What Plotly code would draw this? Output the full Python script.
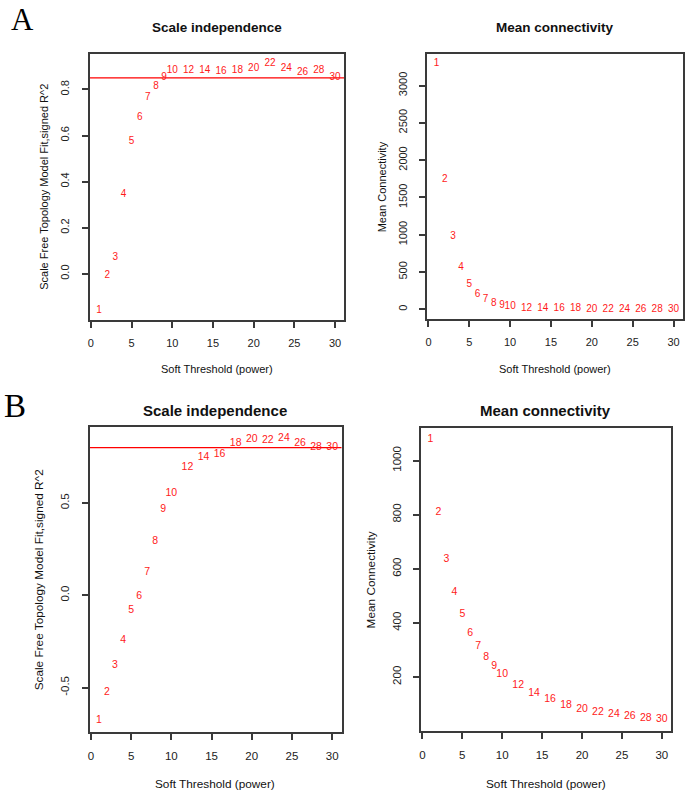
import plotly.graph_objects as go

# ---- data ----
powers = [1, 2, 3, 4, 5, 6, 7, 8, 9, 10, 12, 14, 16, 18, 20, 22, 24, 26, 28, 30]
labels = [str(p) for p in powers]

a_sft = [-0.158, -0.007, 0.071, 0.342, 0.574, 0.679, 0.765, 0.813, 0.851, 0.880,
         0.880, 0.884, 0.876, 0.880, 0.890, 0.911, 0.892, 0.873, 0.884, 0.853]
a_k = [3292, 1746, 970, 559, 338, 199, 135, 81, 50, 31,
       14, 8, 5, 4, 3, 2, 2, 1.5, 1.2, 1]
b_sft = [-0.679, -0.527, -0.377, -0.245, -0.083, -0.005, 0.125, 0.293, 0.466, 0.553,
         0.690, 0.745, 0.765, 0.824, 0.842, 0.841, 0.850, 0.821, 0.803, 0.803]
b_k = [1079, 809, 636, 514, 431, 363, 313, 271, 239, 210,
       169, 138, 116, 95, 80, 69, 61, 54, 47, 42]
a_cut = 0.85
b_cut = 0.80

x_ticks = [0, 5, 10, 15, 20, 25, 30]
a_sft_ticks = [0.0, 0.2, 0.4, 0.6, 0.8]
a_sft_ticktext = ["0.0", "0.2", "0.4", "0.6", "0.8"]
a_k_ticks = [0, 500, 1000, 1500, 2000, 2500, 3000]
b_sft_ticks = [-0.5, 0.0, 0.5]
b_sft_ticktext = ["-0.5", "0.0", "0.5"]
b_k_ticks = [200, 400, 600, 800, 1000]

title_si = "Scale independence"
title_mc = "Mean connectivity"
xlab = "Soft Threshold (power)"
ylab_si = "Scale Free Topology Model Fit,signed R^2"
ylab_mc = "Mean Connectivity"

# ---- style ----
W, H = 685, 791
SANS = "Liberation Sans, Arial, sans-serif"
SERIF = "Liberation Serif, Times New Roman, serif"
AXCOL = "#3a3a3a"


def rpad(vals, f=0.04):
    lo, hi = min(vals), max(vals)
    d = (hi - lo) * f
    return [lo - d, hi + d]


def px_dom_x(a, b):
    return [a / W, b / W]


def px_dom_y(top, bottom):
    return [1 - bottom / H, 1 - top / H]


fig = go.Figure()

panels = [
    ("x", "y", a_sft, (88, 344), (54, 320), a_sft_ticks, a_sft_ticktext, a_cut),
    ("x2", "y2", a_k, (427, 684), (54, 319), a_k_ticks, [str(v) for v in a_k_ticks], None),
    ("x3", "y3", b_sft, (88, 341), (427, 732), b_sft_ticks, b_sft_ticktext, b_cut),
    ("x4", "y4", b_k, (421, 672), (428, 731), b_k_ticks, [str(v) for v in b_k_ticks], None),
]

layout = dict(
    width=W, height=H,
    margin=dict(l=0, r=0, t=0, b=0),
    paper_bgcolor="white", plot_bgcolor="white",
    showlegend=False,
    font=dict(family=SANS, color="#222"),
)

for i, (xa, ya, yd, xd, yd_px, yt, ytt, cut) in enumerate(panels):
    fs = 10 if i < 2 else 10.5
    tfs = 11 if i < 2 else 11.5
    xkey = "xaxis" + xa[1:]
    ykey = "yaxis" + ya[1:]
    layout[xkey] = dict(
        domain=px_dom_x(*xd), anchor=ya, range=rpad(powers),
        tickvals=x_ticks, ticktext=[str(v) for v in x_ticks],
        showline=True, mirror=True, linecolor=AXCOL, linewidth=1.5,
        ticks="outside", ticklen=6, tickwidth=1.5, tickcolor=AXCOL,
        showgrid=False, zeroline=False,
        tickfont=dict(size=tfs, family=SANS, color="#222"),
        ticklabelstandoff=6,
    )
    layout[ykey] = dict(
        domain=px_dom_y(*yd_px), anchor=xa, range=rpad(yd),
        tickvals=yt, ticktext=ytt, tickangle=-90,
        showline=True, mirror=True, linecolor=AXCOL, linewidth=1.5,
        ticks="outside", ticklen=6, tickwidth=1.5, tickcolor=AXCOL,
        showgrid=False, zeroline=False,
        tickfont=dict(size=tfs, family=SANS, color="#222"),
        ticklabelstandoff=8,
    )
    if cut is not None:
        fig.add_shape(type="line", xref=xa + " domain", yref=ya,
                      x0=0, x1=1, y0=cut, y1=cut, layer="below",
                      line=dict(color="#ff0000", width=1.2))
    fig.add_trace(go.Scatter(
        x=powers, y=yd, mode="text", text=labels,
        textposition="middle center",
        textfont=dict(color="#ff1a1a", size=fs, family=SANS),
        xaxis=xa, yaxis=ya, hoverinfo="skip", cliponaxis=False,
    ))

annotations = []


def ann(text, x, y, size, family=SANS, bold=False, angle=0, color="#111",
        yanchor="middle"):
    t = "<b>%s</b>" % text if bold else text
    annotations.append(dict(
        text=t, x=x / W, y=1 - y / H, xref="paper", yref="paper",
        xanchor="center", yanchor=yanchor, showarrow=False, textangle=angle,
        font=dict(size=size, family=family, color=color),
    ))


# panel letters
ann("A", 21, 0, 31, family=SERIF, color="#000", yanchor="top")
ann("B", 13, 406, 33, family=SERIF, color="#000")
# titles
ann(title_si, 216, 27, 13.5, bold=True)
ann(title_mc, 555, 27, 13.5, bold=True)
ann(title_si, 214, 410, 15, bold=True)
ann(title_mc, 546, 410, 15, bold=True)
# x labels
ann(xlab, 215.5, 369, 11)
ann(xlab, 555, 369, 11)
ann(xlab, 214, 784, 11.8)
ann(xlab, 546.5, 784, 11.8)
# y labels
ann(ylab_si, 42, 187, 11, angle=-90)
ann(ylab_mc, 382, 187, 11, angle=-90)
ann(ylab_si, 37.5, 580, 11.8, angle=-90)
ann(ylab_mc, 371, 580, 11.8, angle=-90)

layout["annotations"] = annotations
fig.update_layout(**layout)

fig.write_html("out.html",
               config={"displayModeBar": False},
               post_script="document.body.style.margin='0px';"
                           "document.body.style.overflow='hidden';")
